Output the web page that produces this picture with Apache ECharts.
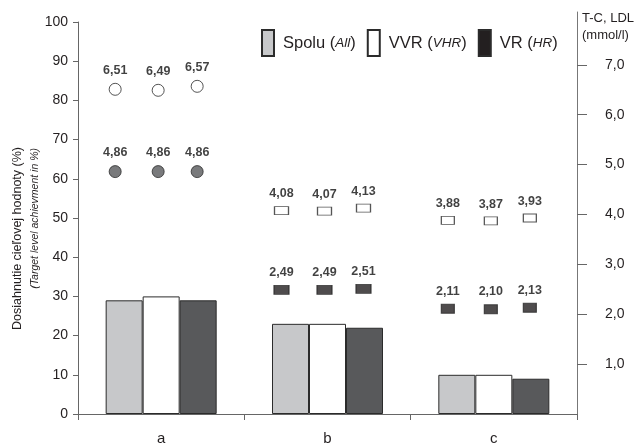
<!DOCTYPE html>
<html>
<head>
<meta charset="utf-8">
<script src="https://cdn.jsdelivr.net/npm/echarts@6/dist/echarts.min.js"></script>
<style>html,body{margin:0;padding:0;background:#fff}#c{width:640px;height:443px}</style>
</head>
<body>
<div id="c"></div>
<script>
// ---- data ----
const categories = ['a', 'b', 'c'];
const spolu = [29, 23, 10];
const vvr = [30, 23, 10];
const vr = [29, 22, 9];
// T-C (upper markers) and LDL (lower markers), mmol/l
const tcSpolu = [6.51, 4.08, 3.88];
const tcVVR = [6.49, 4.07, 3.87];
const tcVR = [6.57, 4.13, 3.93];
const ldlSpolu = [4.86, 2.49, 2.11];
const ldlVVR = [4.86, 2.49, 2.10];
const ldlVR = [4.86, 2.51, 2.13];
const rightTickValues = [1, 2, 3, 4, 5, 6, 7];

// ---- styles ----
const FONT = 'Liberation Sans, Arial, Helvetica, sans-serif';
const INK = '#231f20';
const shapes = ['circle', 'rect', 'rect'];
const upperSizes = [12, [14, 8], [13, 8]];
const lowerSizes = [12, [15, 9], [13, 9]];
const lowerFill = ['#58595b', INK, INK];

function markerSeries(name, vals, offX, upper) {
  return {
    name: name, type: 'scatter', xAxisIndex: 1, yAxisIndex: 1,
    symbolOffset: [offX, 0],
    data: vals.map((v, i) => ({
      value: v,
      symbol: shapes[i],
      symbolSize: upper ? upperSizes[i] : lowerSizes[i],
      itemStyle: { color: upper ? '#ffffff' : lowerFill[i], borderColor: '#2b2b2b', borderWidth: 1 }
    })),
    label: {
      show: true, position: 'top', distance: 6,
      fontFamily: FONT, fontSize: 12.5, fontWeight: 'bold', color: '#111',
      formatter: p => p.value.toFixed(2).replace('.', ',')
    },
    emphasis: { disabled: true },
    z: 5
  };
}

const barStyle = (c) => ({ color: c, borderColor: '#2b2b2b', borderWidth: 1 });

const chart = echarts.init(document.getElementById('c'), null, { renderer: 'canvas' });
chart.setOption({
  animation: false,
  backgroundColor: '#ffffff',
  grid: [
    { left: 78, right: 63, top: 22, bottom: 29, containLabel: false, outerBoundsMode: 'none' },
    { left: 78, right: 63, top: 12, bottom: 29, containLabel: false, outerBoundsMode: 'none' }
  ],
  legend: {
    left: 261, top: 29, icon: 'rect', padding: 0,
    itemWidth: 12, itemHeight: 26, itemGap: 11,
    data: [
      { name: 'Spolu' },
      { name: 'VVR' },
      { name: 'VR', itemStyle: { color: INK } }
    ],
    textStyle: {
      fontFamily: FONT, fontSize: 16.5, color: INK, padding: [0, 0, 0, 4],
      rich: {
        n: { fontFamily: FONT, fontSize: 16.5, color: INK },
        i: { fontFamily: FONT, fontSize: 13.5, fontStyle: 'italic', color: INK }
      }
    },
    formatter: function (name) {
      const it = { Spolu: 'All', VVR: 'VHR', VR: 'HR' }[name];
      return '{n|' + name + ' (}{i|' + it + '}{n|)}';
    }
  },
  xAxis: [
    {
      type: 'category', gridIndex: 0, data: categories,
      axisLine: { lineStyle: { color: '#666', width: 1 } },
      axisTick: { show: true, length: 6, lineStyle: { color: '#666' } },
      axisLabel: { fontFamily: FONT, fontSize: 15, color: INK, margin: 17 }
    },
    { type: 'category', gridIndex: 1, data: categories, show: false }
  ],
  yAxis: [
    {
      type: 'value', gridIndex: 0, min: 0, max: 100, interval: 10,
      axisLine: { show: true, lineStyle: { color: '#666', width: 1 } },
      axisTick: { show: true, length: 5, lineStyle: { color: '#666' } },
      axisLabel: { fontFamily: FONT, fontSize: 14, color: INK, margin: 10 },
      splitLine: { show: false }
    },
    {
      type: 'value', gridIndex: 1, position: 'right', min: 0, max: 8.06,
      axisLine: { show: true, lineStyle: { color: '#777', width: 1 } },
      axisTick: { show: true, length: 10, customValues: rightTickValues, lineStyle: { color: '#666' } },
      axisLabel: {
        fontFamily: FONT, fontSize: 14, color: INK, margin: 28, customValues: rightTickValues,
        formatter: v => v.toFixed(1).replace('.', ',')
      },
      splitLine: { show: false }
    }
  ],
  graphic: [
    { type: 'text', x: 18, y: 147, rotation: Math.PI / 2,
      style: { text: 'Dosiahnutie cieľovej hodnoty (%)', fontFamily: FONT, fontSize: 12.5, fill: INK, textAlign: 'right', textVerticalAlign: 'middle' } },
    { type: 'text', x: 35, y: 148, rotation: Math.PI / 2,
      style: { text: '(Target level achievment in %)', fontFamily: FONT, fontSize: 10.5, fontStyle: 'italic', fill: INK, textAlign: 'right', textVerticalAlign: 'middle' } },
    { type: 'text', x: 582, y: 18,
      style: { text: 'T-C, LDL', fontFamily: FONT, fontSize: 13, fill: INK, textAlign: 'left', textVerticalAlign: 'middle' } },
    { type: 'text', x: 582, y: 35,
      style: { text: '(mmol/l)', fontFamily: FONT, fontSize: 13, fill: INK, textAlign: 'left', textVerticalAlign: 'middle' } }
  ],
  series: [
    { name: 'Spolu', type: 'bar', data: spolu, barWidth: 37, barGap: '0%', itemStyle: barStyle('#c7c8ca'), emphasis: { disabled: true } },
    { name: 'VVR', type: 'bar', data: vvr, barWidth: 37, barGap: '0%', itemStyle: barStyle('#ffffff'), emphasis: { disabled: true } },
    { name: 'VR', type: 'bar', data: vr, barWidth: 37, barGap: '0%', itemStyle: barStyle('#58595b'), emphasis: { disabled: true } },
    markerSeries('T-C Spolu', tcSpolu, -46, true),
    markerSeries('T-C VVR', tcVVR, -3, true),
    markerSeries('T-C VR', tcVR, 36, true),
    markerSeries('LDL Spolu', ldlSpolu, -46, false),
    markerSeries('LDL VVR', ldlVVR, -3, false),
    markerSeries('LDL VR', ldlVR, 36, false)
  ]
});
</script>
</body>
</html>
